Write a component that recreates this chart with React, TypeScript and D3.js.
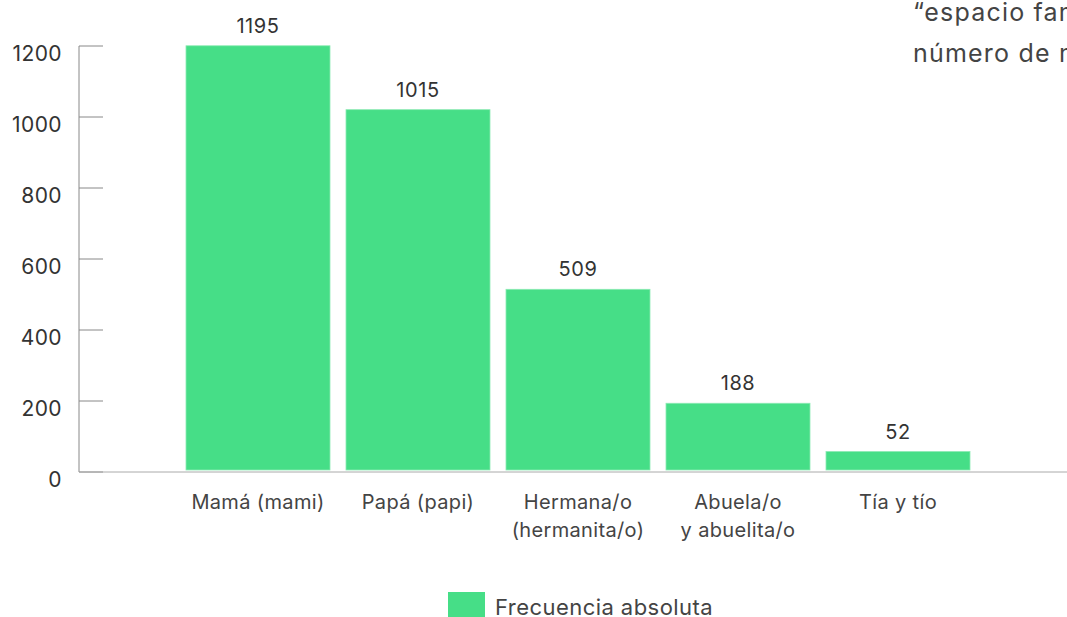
import React from "react";
import * as d3 from "d3";

const categories = ["Mamá (mami)", "Papá (papi)", "Hermana/o\n(hermanita/o)", "Abuela/o\ny abuelita/o", "Tía y tío"];
const values = [1195, 1015, 509, 188, 52];
const yTicks = [0, 200, 400, 600, 800, 1000, 1200];
const legendLabel = "Frecuencia absoluta";
const titleLines = ["“espacio familiar”", "número de menciones"];

const W = 1067;
const H = 617;
const FONT = "Inter, Roboto, 'Noto Sans', sans-serif";
const GREEN = "#46de87";

export default function App() {
  const y = d3.scaleLinear().domain([0, 1200]).range([472, 46]);
  const x = d3.scaleBand<string>().domain(categories).range([178, 978]).paddingInner(0.1).paddingOuter(0.05);
  const axisX = 79;
  return (
    <svg width={W} height={H} style={{ position: "absolute", left: 0, top: 0, background: "#fff" }} fontFamily={FONT}>
      {/* top-right title (clipped by the chart edge) */}
      {titleLines.map((t, i) => (
        <text key={i} x={913} y={21 + i * 41} fontSize={25} letterSpacing={1.2} fill="#444">{t}</text>
      ))}
      {/* y axis */}
      <line x1={axisX} x2={axisX} y1={y(1200)} y2={y(0)} stroke="#888" strokeWidth={1} />
      {yTicks.map((t) => (
        <g key={t}>
          <line x1={axisX} x2={axisX + 24} y1={y(t)} y2={y(t)} stroke="#888" strokeWidth={1} />
          <text x={62} y={y(t) + 8} dy="0.35em" textAnchor="end" fontSize={21} letterSpacing={0.4} fill="#333">{t}</text>
        </g>
      ))}
      {/* x axis */}
      <line x1={axisX} x2={W} y1={y(0)} y2={y(0)} stroke="#aaa" strokeWidth={1} />
      {/* bars */}
      {categories.map((c, i) => {
        const bx = x(c)!;
        const bw = x.bandwidth();
        const top = y(values[i]) - 2;
        return (
          <g key={c}>
            <rect x={bx} y={top} width={bw} height={y(0) - 2 - top} fill={GREEN} stroke="#8ceab3" strokeWidth={0.8} />
            <text x={bx + bw / 2} y={top - 20} dy="0.35em" textAnchor="middle" fontSize={20} letterSpacing={0.6} fill="#333">{values[i]}</text>
            {c.split("\n").map((line, j) => (
              <text key={j} x={bx + bw / 2} y={502 + j * 28} dy="0.35em" textAnchor="middle" fontSize={20} letterSpacing={0.35} fill="#444">{line}</text>
            ))}
          </g>
        );
      })}
      {/* legend */}
      <rect x={448} y={592} width={37} height={26} fill={GREEN} />
      <text x={495} y={607} dy="0.35em" fontSize={22} letterSpacing={0.45} fill="#444">{legendLabel}</text>
    </svg>
  );
}
